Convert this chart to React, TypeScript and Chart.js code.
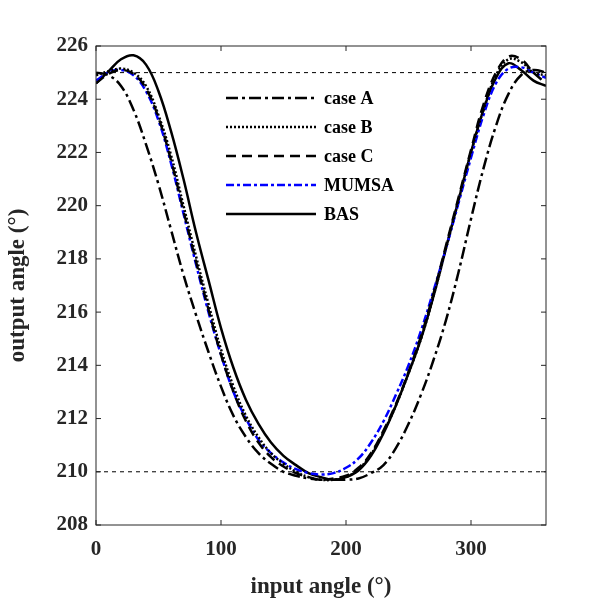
import React, { useEffect, useRef } from "react";
import { Chart, registerables } from "chart.js";
Chart.register(...registerables);

const angles = [0,10,20,30,40,50,60,70,80,90,100,110,120,130,140,150,160,170,180,190,200,210,220,230,240,250,260,270,280,290,300,310,320,330,340,350,360];
const caseA = [225.0,224.9,224.5,223.6,222.3,220.8,219.1,217.4,215.9,214.5,213.2,212.1,211.3,210.7,210.3,210.0,209.85,209.75,209.7,209.7,209.7,209.75,209.95,210.25,210.9,211.8,212.9,214.2,215.7,217.5,219.5,221.4,223.0,224.2,224.9,225.1,225.0];
const caseB = [224.9,225.05,225.15,225.0,224.5,223.4,221.9,220.0,218.1,216.3,214.6,213.2,212.1,211.3,210.7,210.3,210.0,209.8,209.7,209.7,209.8,210.1,210.65,211.5,212.5,213.7,215.0,216.6,218.4,220.2,222.0,223.6,224.9,225.5,225.4,225.0,224.9];
const caseC = [224.6,224.95,225.1,224.95,224.4,223.3,221.7,219.8,217.9,216.1,214.4,213.0,211.9,211.1,210.55,210.2,209.95,209.8,209.7,209.75,209.85,210.15,210.7,211.55,212.55,213.75,215.1,216.7,218.5,220.3,222.1,223.8,225.0,225.6,225.5,225.0,224.6];
const mumsa = [224.7,225.0,225.1,224.9,224.3,223.2,221.6,219.7,217.8,216.0,214.4,213.0,212.0,211.2,210.7,210.35,210.1,209.95,209.9,209.95,210.15,210.5,211.1,211.9,212.9,214.0,215.3,216.8,218.4,220.1,221.8,223.4,224.6,225.15,225.2,225.0,224.8];
const bas = [224.6,225.05,225.5,225.65,225.3,224.3,222.8,221.0,219.0,217.2,215.4,213.9,212.7,211.8,211.1,210.6,210.25,209.95,209.8,209.7,209.8,210.05,210.6,211.45,212.5,213.7,215.0,216.6,218.4,220.2,222.0,223.6,224.8,225.35,225.1,224.7,224.5];
const refLevels = [225, 210];
const xTicks = [0, 100, 200, 300];
const yTicks = [208,210,212,214,216,218,220,222,224,226];

const FONT = "'Liberation Serif', 'Times New Roman', serif";

const series = [
  { label: "case A", data: caseA, color: "#000", dash: [12,4,3,4] },
  { label: "case B", data: caseB, color: "#000", dash: [2,2] },
  { label: "case C", data: caseC, color: "#000", dash: [10,6] },
  { label: "MUMSA", data: mumsa, color: "#0000ff", dash: [8,3,3,3] },
  { label: "BAS", data: bas, color: "#000", dash: [] as number[] },
];

const framePlugin = {
  id: "frame",
  afterDatasetsDraw(chart: any) {
    const { ctx, chartArea: a, scales } = chart;
    ctx.save();
    ctx.strokeStyle = "#262626";
    ctx.lineWidth = 1;
    ctx.strokeRect(a.left, a.top, a.right - a.left, a.bottom - a.top);
    const t = 5;
    ctx.beginPath();
    xTicks.forEach((v) => {
      const x = scales.x.getPixelForValue(v);
      ctx.moveTo(x, a.bottom); ctx.lineTo(x, a.bottom - t);
      ctx.moveTo(x, a.top); ctx.lineTo(x, a.top + t);
    });
    yTicks.forEach((v) => {
      const y = scales.y.getPixelForValue(v);
      ctx.moveTo(a.left, y); ctx.lineTo(a.left + t, y);
      ctx.moveTo(a.right, y); ctx.lineTo(a.right - t, y);
    });
    ctx.stroke();
    ctx.font = `bold 18px ${FONT}`;
    ctx.textBaseline = "middle";
    series.forEach((s, i) => {
      const y = 98 + i * 29;
      ctx.beginPath();
      ctx.strokeStyle = s.color;
      ctx.lineWidth = 2.5;
      ctx.setLineDash(s.dash);
      ctx.moveTo(226, y); ctx.lineTo(316, y);
      ctx.stroke();
      ctx.setLineDash([]);
      ctx.fillStyle = "#000";
      ctx.fillText(s.label, 324, y + 1);
    });
    ctx.restore();
  },
};

export default function App() {
  const ref = useRef<HTMLCanvasElement>(null);
  useEffect(() => {
    const datasets: any[] = series.map((s) => ({
      label: s.label,
      data: angles.map((x, i) => ({ x, y: s.data[i] })),
      borderColor: s.color,
      borderDash: s.dash,
      borderWidth: 2.5,
      pointRadius: 0,
      tension: 0.4,
      fill: false,
    }));
    refLevels.forEach((lv) => {
      datasets.push({
        label: "ref" + lv,
        data: [{ x: 0, y: lv }, { x: 360, y: lv }],
        borderColor: "#000",
        borderDash: [4, 4],
        borderWidth: 1,
        pointRadius: 0,
      });
    });
    const chart = new Chart(ref.current!, {
      type: "line",
      data: { datasets },
      options: {
        animation: false,
        responsive: false,
        layout: { padding: { top: 46, right: 59, left: 0, bottom: 0 } },
        plugins: { legend: { display: false }, tooltip: { enabled: false } },
        scales: {
          x: {
            type: "linear", min: 0, max: 360,
            afterBuildTicks: (s: any) => { s.ticks = xTicks.map((v) => ({ value: v })); },
            afterFit: (s: any) => { s.height = 80; },
            grid: { display: false, drawTicks: false },
            border: { display: false },
            ticks: { color: "#262626", font: { family: FONT, size: 21, weight: "bold" }, padding: 12, maxRotation: 0 },
            title: { display: true, text: "input angle (°)", color: "#262626", font: { family: FONT, size: 23, weight: "bold" }, padding: { top: 0 } },
          },
          y: {
            type: "linear", min: 208, max: 226,
            afterBuildTicks: (s: any) => { s.ticks = yTicks.map((v) => ({ value: v })); },
            afterFit: (s: any) => { s.width = 96; },
            grid: { display: false, drawTicks: false },
            border: { display: false },
            ticks: { color: "#262626", font: { family: FONT, size: 21, weight: "bold" }, padding: 8 },
            title: { display: true, text: "output angle (°)", color: "#262626", font: { family: FONT, size: 23, weight: "bold" }, padding: { bottom: 0 } },
          },
        },
      } as any,
      plugins: [framePlugin],
    });
    return () => chart.destroy();
  }, []);
  return (
    <div style={{ position: "fixed", left: 0, top: 0, width: 605, height: 605, background: "#fff" }}>
      <canvas ref={ref} width={605} height={605} style={{ width: 605, height: 605 }} />
    </div>
  );
}
